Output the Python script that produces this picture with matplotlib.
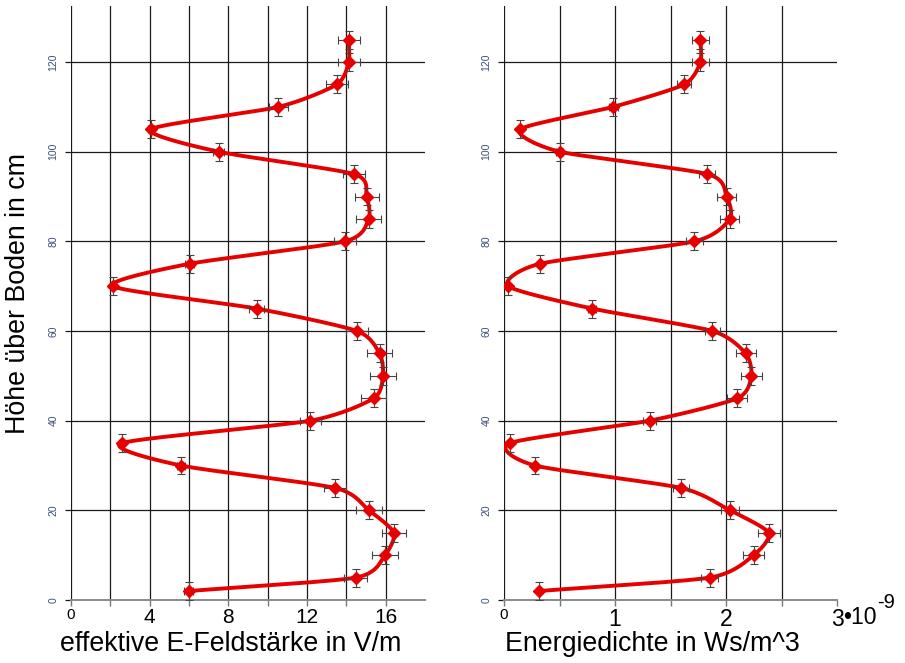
import numpy as np
import matplotlib
matplotlib.use("Agg")
import matplotlib.pyplot as plt

plt.rcParams['font.family'] = ['Liberation Sans', 'DejaVu Sans']

# ---- data ----
height_cm = [2, 5, 10, 15, 20, 25, 30, 35, 40, 45, 50, 55, 60, 65, 70, 75, 80,
             85, 90, 95, 100, 105, 110, 115, 120, 125]
e_field = [5.98, 14.47, 15.96, 16.42, 15.15, 13.42, 5.59, 2.59, 12.17, 15.39,
           15.86, 15.69, 14.54, 9.45, 2.12, 6.03, 13.92, 15.13, 15.03, 14.39,
           7.50, 4.06, 10.55, 13.51, 14.12, 14.12]
e_field_err = [0.24, 0.58, 0.66, 0.63, 0.64, 0.57, 0.22, 0.10, 0.53, 0.63,
               0.66, 0.63, 0.58, 0.38, 0.08, 0.24, 0.57, 0.63, 0.61, 0.57,
               0.30, 0.16, 0.46, 0.56, 0.55, 0.55]
energy = [0.312, 1.853, 2.249, 2.384, 2.036, 1.595, 0.279, 0.054, 1.312, 2.102,
          2.228, 2.177, 1.877, 0.796, 0.039, 0.324, 1.715, 2.033, 2.006, 1.832,
          0.502, 0.147, 0.985, 1.622, 1.769, 1.769]  # in 1e-9 Ws/m^3
energy_err = [0.014, 0.075, 0.095, 0.098, 0.084, 0.068, 0.012, 0.003, 0.060, 0.090,
              0.093, 0.090, 0.070, 0.035, 0.003, 0.015, 0.075, 0.083, 0.086, 0.072,
              0.030, 0.010, 0.041, 0.063, 0.077, 0.077]
height_err = [2.0] * len(height_cm)

left_xticks = [0, 4, 8, 12, 16]
right_xticks = [0, 1, 2, 3]
right_xticklabels = ['0', '1', '2', '3']
yticks = [0, 20, 40, 60, 80, 100, 120]

RED = '#e60000'
ERR = '#444444'
GRID = '#1a1a1a'
TICKC = '#3b4f7a'


def smooth_curve(xs, ys, sx, sy, n=30, tension=0.7):
    # cardinal spline through the points (in pixel-like space)
    px = np.asarray(xs, float) * sx
    py = np.asarray(ys, float) * sy
    P = np.column_stack([px, py])
    P = np.vstack([P[0] - (P[1] - P[0]), P, P[-1] + (P[-1] - P[-2])])
    out = []
    t = np.linspace(0, 1, n, endpoint=False)[:, None]
    h00 = 2 * t**3 - 3 * t**2 + 1
    h10 = t**3 - 2 * t**2 + t
    h01 = -2 * t**3 + 3 * t**2
    h11 = t**3 - t**2
    for i in range(1, len(P) - 2):
        p0, p1, p2, p3 = P[i - 1], P[i], P[i + 1], P[i + 2]
        m1 = tension * 0.5 * (p2 - p0)
        m2 = tension * 0.5 * (p3 - p1)
        out.append(h00 * p1 + h10 * m1 + h01 * p2 + h11 * m2)
    out.append(P[-2][None, :])
    out = np.vstack(out)
    return out[:, 0] / sx, out[:, 1] / sy


fig = plt.figure(figsize=(9.05, 6.63), dpi=100)
ax1 = fig.add_axes([71 / 905, 63 / 663, 354 / 905, 594 / 663])
ax2 = fig.add_axes([504 / 905, 63 / 663, 333 / 905, 594 / 663])

ymax = 132.5


def style(ax, xmax, grid_x, major, minor, labels, lsize):
    ax.set_xlim(0, xmax)
    ax.set_ylim(0, ymax)
    for gx in grid_x:
        ax.axvline(gx, color=GRID, lw=0.9, zorder=1)
    for gy in yticks[1:]:
        ax.axhline(gy, color=GRID, lw=0.9, zorder=1)
    for s in ['top', 'right', 'left']:
        ax.spines[s].set_visible(False)
    ax.spines['bottom'].set_color('#8a8a8a')
    ax.spines['bottom'].set_linewidth(1.4)
    ax.set_xticks(major)
    ax.set_xticklabels(labels)
    ax.set_xticks(minor, minor=True)
    ax.tick_params(axis='x', which='both', direction='out', length=4, width=1,
                   color='#777777', labelsize=lsize, pad=2)
    ax.get_xticklabels()[0].set_fontsize(11)
    ax.set_yticks(yticks)
    ax.set_yticklabels([str(v) for v in yticks], rotation=90, va='center',
                       color=TICKC, fontsize=7.5)
    ax.tick_params(axis='y', direction='out', length=4, width=0.9, color=GRID, pad=5)


style(ax1, 18, np.arange(0, 18, 2), left_xticks, [2, 6, 10, 14],
      [str(v) for v in left_xticks], 15)
style(ax2, 3, np.arange(0, 3, 0.5), right_xticks, [0.5, 1.5, 2.5],
      right_xticklabels, 16.5)

for ax, xv, xe, sx in [(ax1, e_field, e_field_err, 354 / 18),
                       (ax2, energy, energy_err, 333 / 3)]:
    cx, cy = smooth_curve(xv, height_cm, sx, 594 / ymax)
    ax.plot(cx, cy, color=RED, lw=2.8, zorder=3, solid_capstyle='round')
    ax.errorbar(xv, height_cm, xerr=xe, yerr=height_err, fmt='none',
                ecolor=ERR, elinewidth=0.8, capsize=3, capthick=0.8, zorder=3.5)
    ax.plot(xv, height_cm, linestyle='none', marker='D', markersize=6.5,
            color=RED, zorder=4)

t1 = ax2.annotate('\u202210', xy=(3, 0), xycoords=('data', 'axes fraction'),
                  xytext=(4.5, -12.5), textcoords='offset points', ha='left',
                  va='center', fontsize=16.5)
ax2.annotate('-9', xy=(1, 1), xycoords=t1, xytext=(0.5, -4.5),
             textcoords='offset points', ha='left', va='bottom', fontsize=14.5)

fig.text(231 / 905, 1 - 644 / 663, 'effektive E-Feldstärke in V/m', ha='center',
         va='center', fontsize=19.3)
fig.text(652 / 905, 1 - 644 / 663, 'Energiedichte in Ws/m^3', ha='center',
         va='center', fontsize=19.3)
fig.text(18 / 905, 1 - 293 / 663, 'Höhe über Boden in cm', ha='center',
         va='center', rotation=90, fontsize=19.3)

fig.savefig('out.png', dpi=100)
